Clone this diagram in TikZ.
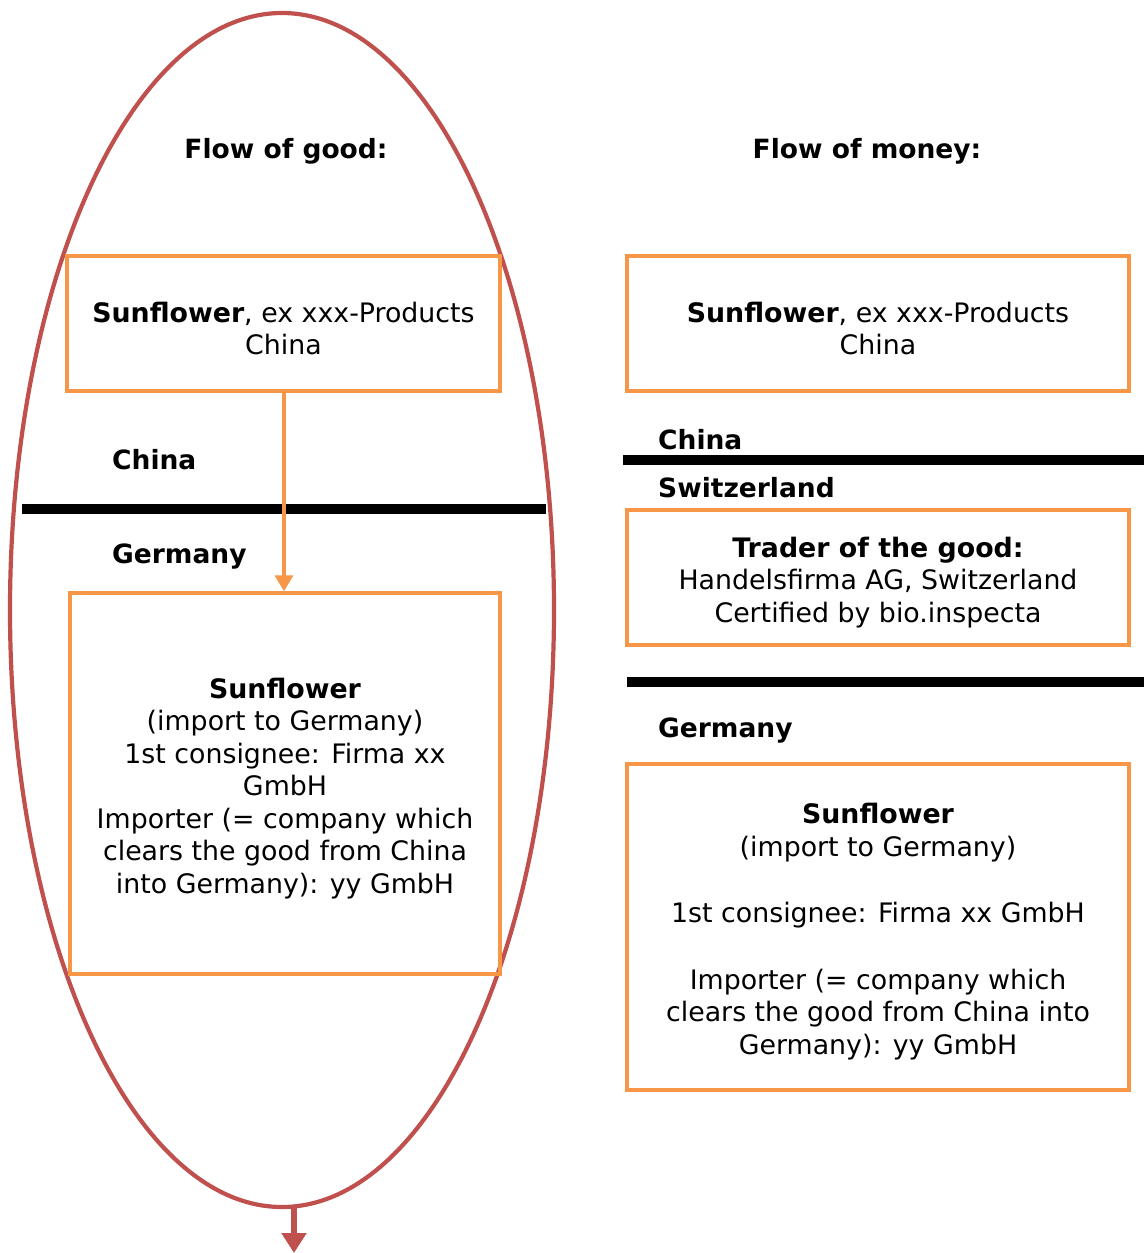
\documentclass[tikz,border=0pt]{standalone}
\usepackage{fontspec}
\setmainfont{DejaVu Sans}
\usetikzlibrary{arrows.meta,shapes.geometric}
\definecolor{boxorange}{HTML}{F79646}
\definecolor{ellred}{HTML}{C0504D}
\newcommand{\toppad}{\rule{0pt}{30pt}}
\begin{document}
\begin{tikzpicture}[x=1pt,y=-1pt,
  every node/.style={font=\fontsize{26.8}{32.5}\selectfont},
  obox/.style={draw=boxorange,line width=3.5pt,inner sep=0pt,align=center},
  lbl/.style={anchor=west,inner sep=0pt,font=\fontsize{26.5}{32.5}\selectfont\bfseries},
  sep/.style={line width=10pt,black},
  title/.style={inner sep=0pt,font=\fontsize{26.5}{32.5}\selectfont\bfseries}
]
\useasboundingbox (0,0) rectangle (1144,1253);
\fill[white] (0,0) rectangle (1144,1253);

% ellipse
\node[ellipse,draw=ellred,line width=4.2pt,minimum width=544pt,minimum height=1194pt,inner sep=0pt] (ell) at (282,610) {};

% titles
\node[title] (tg) at (286,151) {Flow of good:};
\node[title] (tm) at (867,151) {Flow of money:};

% left column
\node[obox,minimum width=433pt,minimum height=135pt] (lb1) at (283.5,323.5)
  {\toppad\textbf{Sunflower}, ex xxx-Products\\China};
\node[lbl] (lchina) at (112,460) {China};
\coordinate (ls1) at (22,509);
\coordinate (ls2) at (546,509);
\draw[sep] (ls1) -- (ls2);
\node[lbl] (lger) at (112,557) {Germany};
\node[obox,minimum width=430pt,minimum height=381pt] (lb2) at (285,783.5)
  {\toppad\textbf{Sunflower}\\(import to Germany)\\1st consignee: Firma xx\\GmbH\\Importer (= company which\\clears the good from China\\into Germany): yy GmbH};
\draw[boxorange,line width=3.5pt,-{Triangle[length=16pt,width=18pt]}] (lb1.south -| 284,0) -- (lb2.north -| 284,0);

% bottom arrow
\coordinate (arrend) at (294,1253);
\draw[ellred,line width=6pt,-{Triangle[length=20pt,width=24pt]}] (294,1207) -- (arrend);

% right column
\node[obox,minimum width=502pt,minimum height=135pt] (rb1) at (878,323.5)
  {\toppad\textbf{Sunflower}, ex xxx-Products\\China};
\node[lbl] (rchina) at (658,440) {China};
\coordinate (rs1) at (623,460);
\coordinate (rs2) at (1144,460);
\draw[sep] (rs1) -- (rs2);
\node[lbl] (rswiss) at (658,488) {Switzerland};
\node[obox,minimum width=502pt,minimum height=135pt] (rb2) at (878,577.5)
  {\toppad\textbf{Trader of the good:}\\Handelsfirma AG, Switzerland\\Certified by bio.inspecta};
\coordinate (rs3) at (627,682);
\coordinate (rs4) at (1144,682);
\draw[sep] (rs3) -- (rs4);
\node[lbl] (rger) at (658,731) {Germany};
\node[obox,minimum width=502pt,minimum height=326pt] (rb3) at (878,927)
  {\toppad\textbf{Sunflower}\\(import to Germany)\\[34pt]1st consignee: Firma xx GmbH\\[34pt]Importer (= company which\\clears the good from China into\\Germany): yy GmbH};
\end{tikzpicture}
\end{document}
